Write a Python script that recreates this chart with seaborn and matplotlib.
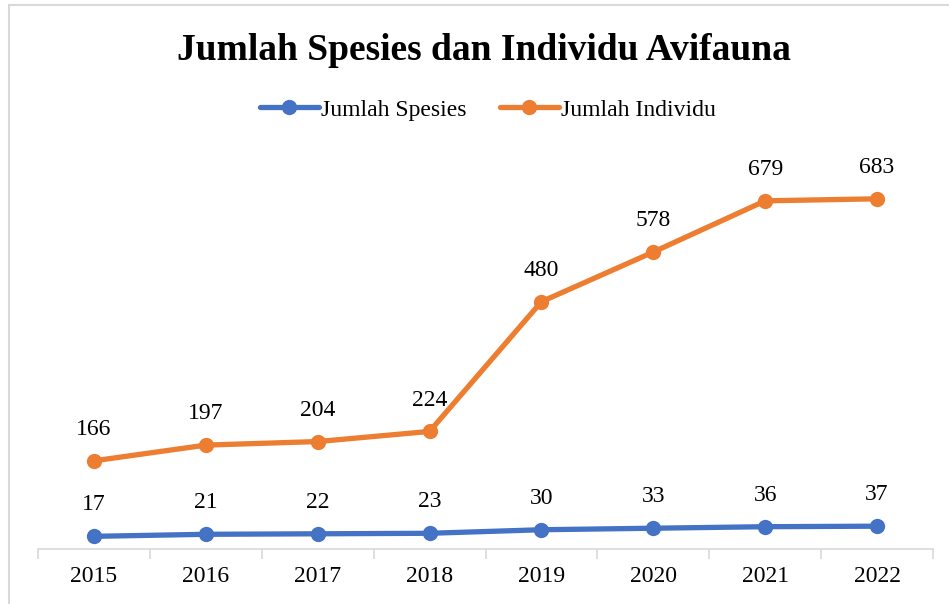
import matplotlib
matplotlib.use("Agg")
import matplotlib.pyplot as plt
from matplotlib.patches import Rectangle
from matplotlib.lines import Line2D
import seaborn as sns
import pandas as pd
import numpy as np

years = ["2015", "2016", "2017", "2018", "2019", "2020", "2021", "2022"]
jumlah_spesies = [17, 21, 22, 23, 30, 33, 36, 37]
jumlah_individu = [166, 197, 204, 224, 480, 578, 679, 683]
series_names = ["Jumlah Spesies", "Jumlah Individu"]
colors = ["#4472C4", "#ED7D31"]

sns.set_style("white")
plt.rcParams["font.family"] = ["Liberation Serif", "DejaVu Serif"]
plt.rcParams["text.color"] = "black"
plt.rcParams["xtick.color"] = "black"

df = pd.DataFrame({
    "pos": list(range(len(years))) * 2,
    "value": jumlah_spesies + jumlah_individu,
    "series": [series_names[0]] * len(years) + [series_names[1]] * len(years),
})

fig = plt.figure(figsize=(9.49, 6.04), dpi=100)
ax = fig.add_axes([38 / 949, 1 - 549 / 604, (933 - 38) / 949, (549 - 139) / 604])

sns.lineplot(data=df, x="pos", y="value", hue="series", hue_order=series_names,
             palette=colors, marker="o", markersize=11, markeredgewidth=0,
             linewidth=3.8, ax=ax, legend=False)

# value labels above each point
for vals in (jumlah_spesies, jumlah_individu):
    for i, v in enumerate(vals):
        ax.annotate(str(v), (i, v), xytext=(0, 15), textcoords="offset points",
                    ha="center", va="bottom", fontsize=17, color="black")

ax.set_xlim(-0.5, len(years) - 0.5)
ax.set_ylim(-8, 801)
ax.set_yticks([])
ax.set_xticks(range(len(years)))
ax.set_xticklabels(years, fontsize=17, color="black")
ax.set_xticks(np.arange(-0.5, len(years), 1.0), minor=True)
ax.tick_params(axis="x", which="both", bottom=True)
ax.tick_params(axis="x", which="major", length=0, pad=12)
ax.tick_params(axis="x", which="minor", length=7, color="#D9D9D9", width=1.2)
ax.set_xlabel("")
ax.set_ylabel("")
for side in ("top", "left", "right"):
    ax.spines[side].set_visible(False)
ax.spines["bottom"].set_color("#D9D9D9")
ax.spines["bottom"].set_linewidth(1.2)

fig.text(484 / 949, 1 - 50 / 604, "Jumlah Spesies dan Individu Avifauna",
         ha="center", va="center", fontsize=27, fontweight="bold", color="black")

# legend
handles = [Line2D([], [], color=c, marker="o", markersize=11, linewidth=3.8,
                  markeredgewidth=0) for c in colors]
fig.legend(handles, series_names, loc="center", bbox_to_anchor=(488 / 949, 1 - 110 / 604),
           ncol=2, frameon=False, fontsize=17, handlelength=2.5, handletextpad=0.1,
           columnspacing=1.4)

# outer chart border
fig.patches.append(Rectangle((8.5 / 949, -0.01), 1.0, 1 - 5.5 / 604 + 0.01,
                             transform=fig.transFigure, fill=False,
                             edgecolor="#D9D9D9", linewidth=1.5))

fig.savefig("out.png", dpi=100)
